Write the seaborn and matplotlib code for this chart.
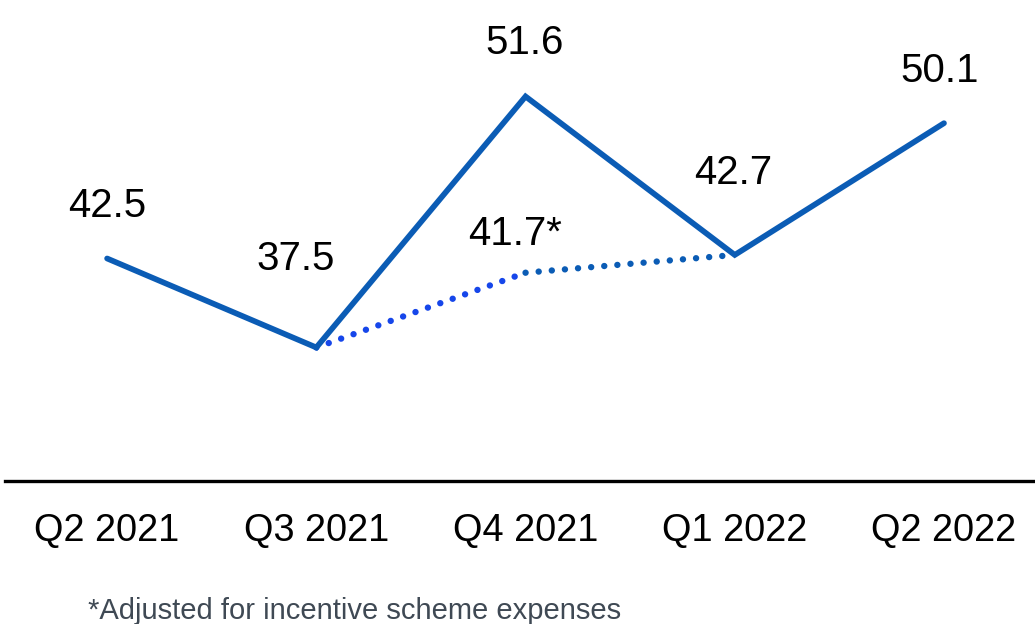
import matplotlib
matplotlib.use("Agg")
import matplotlib.pyplot as plt
import seaborn as sns
import pandas as pd

quarters = ["Q2 2021", "Q3 2021", "Q4 2021", "Q1 2022", "Q2 2022"]
reported = [42.5, 37.5, 51.6, 42.7, 50.1]
adjusted_quarters = ["Q3 2021", "Q4 2021", "Q1 2022"]
adjusted = [37.5, 41.7, 42.7]
value_labels = ["42.5", "37.5", "51.6", "42.7", "50.1"]
adjusted_label = "41.7*"
footnote = "*Adjusted for incentive scheme expenses"

sns.set_theme(style="white")
plt.rcParams["font.family"] = ["Liberation Sans", "DejaVu Sans"]

MAIN = "#0b5cb5"
BRIGHT = "#1646ea"

fig = plt.figure(figsize=(10.35, 6.24), dpi=100)
ax = fig.add_axes([5 / 1035, 1 - 481 / 624, 1 - 5 / 1035, 481 / 624])

pos = {q: i for i, q in enumerate(quarters)}
df = pd.DataFrame({"x": [pos[q] for q in quarters], "y": reported})
adj = pd.DataFrame({"x": [pos[q] for q in adjusted_quarters], "y": adjusted})

dot_style = dict(linewidth=4.6, linestyle=(0, (0.01, 2.05)),
                 dash_capstyle="round")
sns.lineplot(data=adj.iloc[:2], x="x", y="y", ax=ax, color=BRIGHT, **dot_style)
sns.lineplot(data=adj.iloc[1:], x="x", y="y", ax=ax, color=MAIN, **dot_style)
sns.lineplot(data=df, x="x", y="y", ax=ax, color=MAIN, linewidth=4.1,
             solid_joinstyle="miter")

# label offsets in pixels (dx, dy)
offsets = [(0, 52), (-21, 88), (-1, 53), (-2, 82), (-4, 52)]
for i, (lab, (dx, dy)) in enumerate(zip(value_labels, offsets)):
    ax.annotate(lab, (i, reported[i]), xytext=(dx, dy), textcoords="offset pixels",
                ha="center", va="center", fontsize=29, color="black")
ax.annotate(adjusted_label, (pos["Q4 2021"], adjusted[1]), xytext=(-10, 39),
            textcoords="offset pixels", ha="center", va="center",
            fontsize=29, color="black")

ax.set_xlim(-0.488, 4.435)
ax.set_ylim(30, 57.02)
ax.set_xticks(range(len(quarters)))
ax.set_xticklabels(quarters, fontsize=27.3)
ax.set_yticks([])
ax.set_xlabel("")
ax.set_ylabel("")
ax.tick_params(axis="x", length=0, pad=23, colors="black")
for s in ["top", "left", "right"]:
    ax.spines[s].set_visible(False)
ax.spines["bottom"].set_color("black")
ax.spines["bottom"].set_linewidth(2.4)
ax.patch.set_alpha(0)

fig.text(88 / 1035, 1 - 611 / 624, footnote, fontsize=21, color="#3f4954",
         ha="left", va="center")

fig.savefig("out.png", dpi=100)
